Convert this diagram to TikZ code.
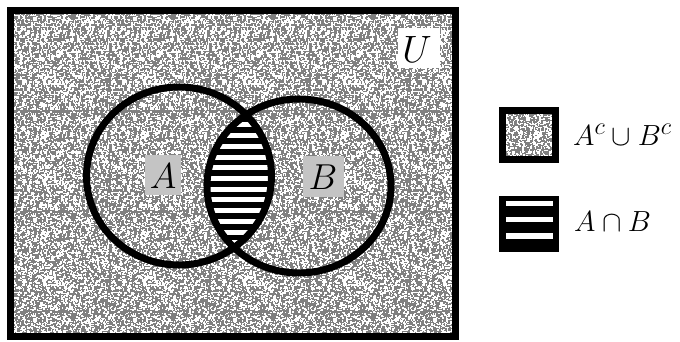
\documentclass[tikz,border=0pt]{standalone}
\definecolor{noisegray}{RGB}{128,128,128}
\definecolor{labelgray}{RGB}{196,196,196}
\newsavebox\nzbox
\newdimen\nzx \newdimen\nzy \newdimen\nzw \newdimen\nzh
\sbox\nzbox{%
  \pgfmathsetseed{7}%
  \color{white}%
  \hbox to 100pt{%
  \foreach \i in {1,...,2600}{%
    \pgfmathrandominteger{\rx}{0}{98}%
    \pgfmathrandominteger{\ry}{0}{98}%
    \pgfmathrandominteger{\rw}{1}{2}%
    \pgfmathrandominteger{\rh}{1}{2}%
    \nzx=\rx pt \nzy=\ry pt \nzw=\rw pt \nzh=\nzy \advance\nzh by \rh pt
    \kern\nzx\vrule width\nzw height\nzh depth-\nzy
    \advance\nzx by \nzw \kern-\nzx
  }\hss}%
}
\tikzset{
  tile/.style={anchor=base west, inner sep=0pt, outer sep=0pt},
  frame/.style={draw=black, line width=7pt},
  setline/.style={draw=black, line width=7pt},
  biglabel/.style={inner sep=0pt, font=\Huge, scale=1.45},
  ulabel/.style={inner sep=0pt, font=\Huge, scale=1.53},
  legendlabel/.style={inner sep=0pt, anchor=west, font=\Huge, scale=1.17},
}
\begin{document}
\begin{tikzpicture}[x=1pt,y=-1pt]
\useasboundingbox (0,0) rectangle (680,342);
\fill[white] (0,0) rectangle (680,342);
% universe background with noise
\fill[noisegray] (10,10.5) rectangle (455,336.5);
\begin{scope}
  \clip (10,10.5) rectangle (455,336.5);
  \foreach \cx in {0,...,4}{
    \foreach \cy in {0,...,3}{
      \node[tile] (t\cx\cy) at ({10+100*\cx},{110.5+100*\cy}) {\usebox\nzbox};
    }
  }
\end{scope}
% U patch
\fill[white] (398,28) rectangle (440,68);
\node[ulabel] (U) at (417,49) {$U$};
% lens A cap B
\begin{scope}
  \clip (179,176) ellipse [x radius=92.5, y radius=89];
  \clip (299,186) ellipse [x radius=92, y radius=87];
  \fill[black] (180,90) rectangle (300,280);
  \foreach \k in {0,...,12}{
    \fill[white] (180,{122.5+10.7*\k}) rectangle (300,{127.5+10.7*\k});
  }
\end{scope}
% set outlines
\draw[setline] (179,176) ellipse [x radius=92.5, y radius=89];
\draw[setline] (299,186) ellipse [x radius=92, y radius=87];
% labels
\fill[labelgray] (145,155) rectangle (181,195);
\node[biglabel] (A) at (163,176) {$A$};
\fill[labelgray] (303,156) rectangle (344,197);
\node[biglabel] (B) at (323,177) {$B$};
% frame
\draw[frame] (10,10.5) rectangle (455,336.5);
% legend 1
\fill[noisegray] (502.5,110.5) rectangle (555.5,159.5);
\begin{scope}
  \clip (502.5,110.5) rectangle (555.5,159.5);
  \node[tile] (lt) at (502.5,210.5) {\usebox\nzbox};
\end{scope}
\draw[frame] (502.5,110.5) rectangle (555.5,159.5);
\node[legendlabel] (L1) at (573,135) {$A^c\cup B^c$};
% legend 2
\fill[black] (499,196) rectangle (559,252);
\fill[white] (506,201) rectangle (553,206);
\fill[white] (506,216.5) rectangle (553,221.5);
\fill[white] (506,233) rectangle (553,238.5);
\node[legendlabel] (L2) at (574,222) {$A\cap B$};
\end{tikzpicture}
\end{document}
